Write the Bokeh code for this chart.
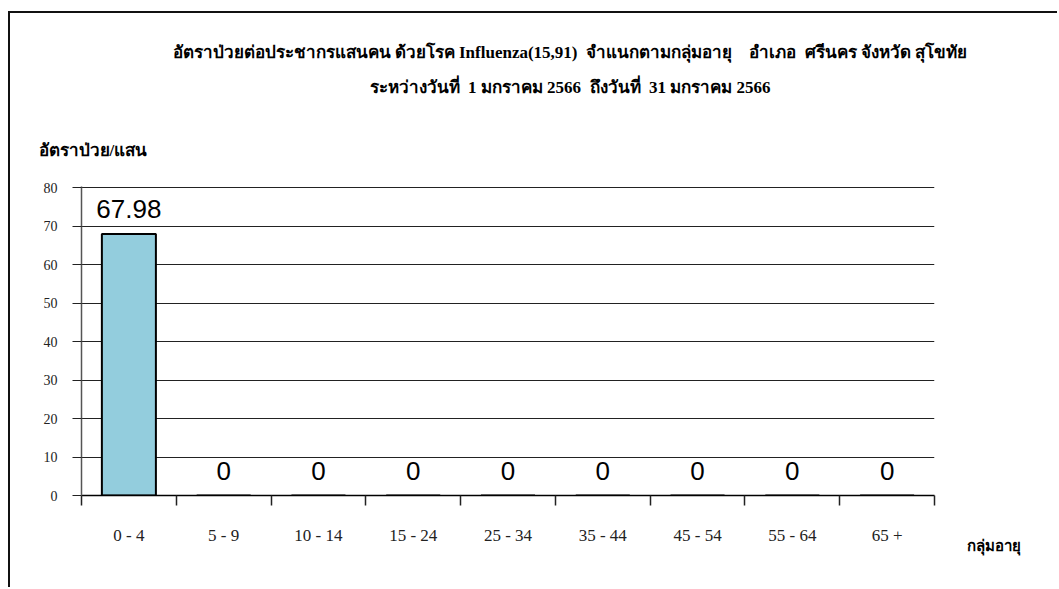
from bokeh.plotting import figure
from bokeh.models import ColumnDataSource, FixedTicker, LabelSet, Title
from bokeh.embed import file_html
from bokeh.resources import INLINE
from bokeh.core.properties import value

NB = "\u00a0"
categories = ["0 - 4", "5 - 9", "10 - 14", "15 - 24", "25 - 34", "35 - 44", "45 - 54", "55 - 64", "65 +"]
rates = [67.98, 0, 0, 0, 0, 0, 0, 0, 0]
y_ticks = [0, 10, 20, 30, 40, 50, 60, 70, 80]
title1 = ("อัตราป่วยต่อประชากรแสนคน ด้วยโรค Influenza(15,91)" + NB * 2 + "จำแนกตามกลุ่มอายุ"
          + NB * 4 + "อำเภอ" + NB * 2 + "ศรีนคร จังหวัด สุโขทัย")
title2 = "ระหว่างวันที่" + NB * 2 + "1 มกราคม 2566" + NB * 2 + "ถึงวันที่" + NB * 2 + "31 มกราคม 2566"
y_title = "อัตราป่วย/แสน"
x_title = "กลุ่มอายุ"

n = len(categories)
centers = [i + 0.5 for i in range(n)]
bounds = [i for i in range(n + 1)]

src = ColumnDataSource(dict(
    x=centers,
    top=rates,
    lab=[f"{v:g}" for v in rates],
))

W, H = 1049, 576
FL, FT, FW, FH = 71, 173, 853, 309
p = figure(width=W, height=H, output_backend="svg", toolbar_location=None,
           x_range=(0, n), y_range=(0, 80.3),
           min_border_left=FL, min_border_right=W - FL - FW,
           min_border_top=FT, min_border_bottom=H - FT - FH)
p.styles = {"border-top": "2px solid #111", "border-left": "2px solid #111",
            "margin-left": "8px", "margin-top": "11px"}
p.outline_line_color = None
p.background_fill_color = "white"
p.border_fill_color = "white"

p.vbar(x="x", top="top", width=0.57, source=src, fill_color="#93CDDD",
       line_color="black", line_width=2)

p.add_layout(LabelSet(x="x", y="top", text="lab", source=src, text_align="center",
                      text_baseline="alphabetic", y_offset=16,
                      text_font=value("Liberation Sans"), text_font_size="26px",
                      text_color="black"))

# grid and axes
p.xgrid.grid_line_color = None
p.ygrid.grid_line_color = "#222222"
p.ygrid.grid_line_width = 1
p.ygrid.ticker = FixedTicker(ticks=y_ticks)

ya = p.yaxis[0]
ya.ticker = FixedTicker(ticks=y_ticks)
ya.axis_line_color = "#555555"
ya.axis_line_width = 1.5
ya.major_tick_out = 9
ya.major_tick_in = 0
ya.minor_tick_line_color = None
ya.major_tick_line_color = "#222222"
ya.major_label_text_font = "Liberation Serif"
ya.major_label_text_font_size = "14px"
ya.major_label_standoff = 15
ya.major_label_text_color = "#222222"

xa = p.xaxis[0]
xa.ticker = FixedTicker(ticks=centers, minor_ticks=bounds)
xa.major_label_overrides = {c: categories[i] for i, c in enumerate(centers)}
xa.axis_line_color = "black"
xa.axis_line_width = 1.5
xa.major_tick_out = 0
xa.major_tick_in = 0
xa.minor_tick_out = 10
xa.minor_tick_in = 0
xa.minor_tick_line_color = "#222222"
xa.minor_tick_line_width = 1.5
xa.major_label_text_font = "Liberation Serif"
xa.major_label_text_font_size = "17px"
xa.major_label_standoff = 20
xa.major_label_text_color = "#222222"

# titles above (first added = closest to the frame)
p.add_layout(Title(text=y_title, align="left", offset=-43, vertical_align="middle",
                   standoff=52, text_font="Liberation Serif", text_font_style="bold",
                   text_font_size="17px", text_color="black"), "above")
p.add_layout(Title(text=title2, align="left", offset=288, vertical_align="middle",
                   standoff=31, text_font="Liberation Serif", text_font_style="bold",
                   text_font_size="17px", text_color="black"), "above")
p.add_layout(Title(text=title1, align="left", offset=91, vertical_align="middle",
                   standoff=-2, text_font="Liberation Serif", text_font_style="bold",
                   text_font_size="17px", text_color="black"), "above")

p.add_layout(Title(text=x_title, align="right", offset=-86, vertical_align="top",
                   standoff=-20, text_font="Liberation Serif", text_font_style="bold",
                   text_font_size="15px", text_color="black"), "below")

open("out.html", "w").write(file_html(p, INLINE))
